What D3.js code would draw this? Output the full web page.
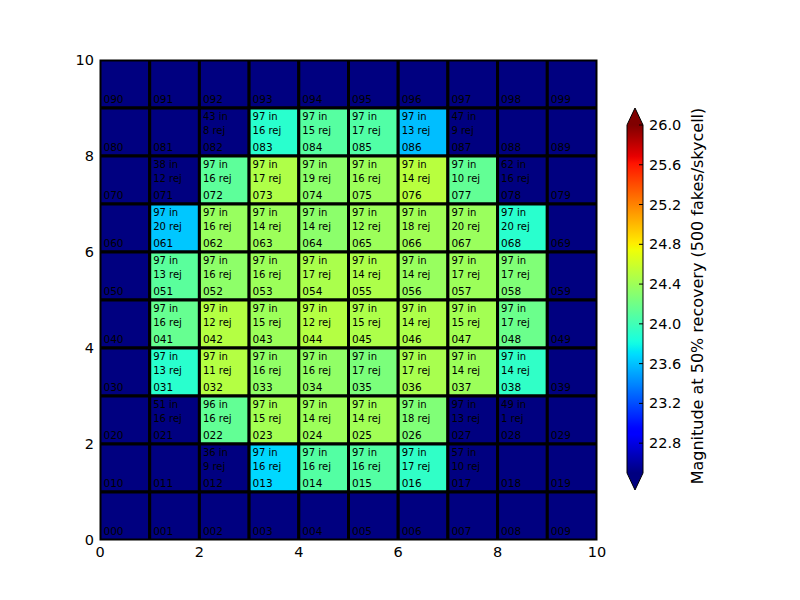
<!DOCTYPE html>
<html>
<head>
<meta charset="utf-8">
<script src="https://cdn.jsdelivr.net/npm/d3@7"></script>
<style>
	body{margin:0;background:#ffffff;}
	text{font-family:"DejaVu Sans", sans-serif;}
</style>
</head>
<body>
<div id="chart"></div>
<script>

//rows listed top (row 9) to bottom (row 0), null = no recovery value (drawn in under-colour)
var magnitude = [
	[null, null, null, null, null, null, null, null, null, null],
	[null, null, null, 23.90, 24.09, 24.07, 23.59, null, null, null],
	[null, null, 24.12, 24.47, 24.32, 24.39, 24.51, 24.14, null, null],
	[null, 23.62, 24.37, 24.39, 24.32, 24.39, 24.41, 24.38, 23.90, null],
	[null, 24.11, 24.33, 24.39, 24.45, 24.46, 24.37, 24.39, 24.27, null],
	[null, 24.16, 24.49, 24.39, 24.49, 24.46, 24.46, 24.42, 24.18, null],
	[null, 23.90, 24.49, 24.34, 24.34, 24.25, 24.44, 24.39, 23.93, null],
	[null, null, 24.14, 24.42, 24.39, 24.41, 24.27, null, null, null],
	[null, null, null, 23.68, 24.08, 24.08, 23.93, null, null, null],
	[null, null, null, null, null, null, null, null, null, null]
];

//fakes put in per cell (null = no text)
var nIn = [
	[null, null, null, null, null, null, null, null, null, null],
	[null, null, 43, 97, 97, 97, 97, 47, null, null],
	[null, 38, 97, 97, 97, 97, 97, 97, 62, null],
	[null, 97, 97, 97, 97, 97, 97, 97, 97, null],
	[null, 97, 97, 97, 97, 97, 97, 97, 97, null],
	[null, 97, 97, 97, 97, 97, 97, 97, 97, null],
	[null, 97, 97, 97, 97, 97, 97, 97, 97, null],
	[null, 51, 96, 97, 97, 97, 97, 97, 49, null],
	[null, null, 36, 97, 97, 97, 97, 57, null, null],
	[null, null, null, null, null, null, null, null, null, null]
];

//fakes rejected per cell
var nRej = [
	[null, null, null, null, null, null, null, null, null, null],
	[null, null, 8, 16, 15, 17, 13, 9, null, null],
	[null, 12, 16, 17, 19, 16, 14, 10, 16, null],
	[null, 20, 16, 14, 14, 12, 18, 20, 20, null],
	[null, 13, 16, 16, 17, 14, 14, 17, 17, null],
	[null, 16, 12, 15, 12, 15, 14, 15, 17, null],
	[null, 13, 11, 16, 16, 17, 17, 14, 14, null],
	[null, 16, 16, 15, 14, 14, 18, 13, 1, null],
	[null, null, 9, 16, 16, 16, 17, 10, null, null],
	[null, null, null, null, null, null, null, null, null, null]
];

var axisTicks = [0, 2, 4, 6, 8, 10];
var cbarTicks = [22.8, 23.2, 23.6, 24.0, 24.4, 24.8, 25.2, 25.6, 26.0];
var cbarRange = [22.5, 26.0];
var cbarLabel = "Magnitude at 50% recovery (500 fakes/skycell)";

//matplotlib "jet" segment data
var jetR = d3.scaleLinear().domain([0, 0.35, 0.66, 0.89, 1]).range([0, 0, 1, 1, 0.5]).clamp(true);
var jetG = d3.scaleLinear().domain([0, 0.125, 0.375, 0.64, 0.91, 1]).range([0, 0, 1, 1, 0, 0]).clamp(true);
var jetB = d3.scaleLinear().domain([0, 0.11, 0.34, 0.65, 1]).range([0.5, 1, 1, 0, 0]).clamp(true);
function jet(t){
	return d3.rgb(jetR(t)*255, jetG(t)*255, jetB(t)*255).formatHex();
}

var W = 800, H = 600;
var plot = {left:100, right:597, top:60, bottom:540};
var fs = "14.5px";

var svg = d3.select("#chart").append("svg").attr("width", W).attr("height", H);

var x = d3.scaleLinear().domain([0, 10]).range([plot.left, plot.right]);
var y = d3.scaleLinear().domain([0, 10]).range([plot.bottom, plot.top]);
var norm = d3.scaleLinear().domain(cbarRange).range([0, 1]);

//flatten to cells
var cells = [];
magnitude.forEach(function(rowVals, ri){
	var row = 9 - ri;
	rowVals.forEach(function(v, col){
		cells.push({
			row:row, col:col, value:v,
			nin:nIn[ri][col], nrej:nRej[ri][col],
			id:"0" + row + col
		});
	});
});

svg.append("clipPath").attr("id", "plotclip")
	.append("rect")
	.attr("x", plot.left).attr("y", plot.top)
	.attr("width", plot.right - plot.left).attr("height", plot.bottom - plot.top);

var maing = svg.append("g").attr("clip-path", "url(#plotclip)");

maing.selectAll("rect.cell").data(cells).enter().append("rect").classed("cell", true)
	.attr("x", function(d){return x(d.col)})
	.attr("y", function(d){return y(d.row + 1)})
	.attr("width", function(d){return x(d.col + 1) - x(d.col)})
	.attr("height", function(d){return y(d.row) - y(d.row + 1)})
	.attr("fill", function(d){return d.value == null ? jet(0) : jet(norm(d.value))})
	.attr("stroke", "#000000")
	.attr("stroke-width", 3);

var labels = maing.selectAll("g.cell-text").data(cells).enter().append("g").classed("cell-text", true);

labels.append("text")
	.attr("x", function(d){return x(d.col + 0.07)})
	.attr("y", function(d){return y(d.row + 0.1)})
	.style("font-size", "10.5px")
	.style("fill", "#000000")
	.text(function(d){return d.id});

labels.filter(function(d){return d.nin != null}).append("text")
	.attr("x", function(d){return x(d.col + 0.07)})
	.attr("y", function(d){return y(d.row + 0.75)})
	.style("font-size", "10px")
	.style("fill", "#000000")
	.text(function(d){return d.nin + " in"});

labels.filter(function(d){return d.nrej != null}).append("text")
	.attr("x", function(d){return x(d.col + 0.07)})
	.attr("y", function(d){return y(d.row + 0.465)})
	.style("font-size", "10px")
	.style("fill", "#000000")
	.text(function(d){return d.nrej + " rej"});

//frame
svg.append("rect")
	.attr("x", plot.left).attr("y", plot.top)
	.attr("width", plot.right - plot.left).attr("height", plot.bottom - plot.top)
	.attr("fill", "none").attr("stroke", "#000000").attr("stroke-width", 1);

//axis tick labels
svg.selectAll("text.xtick").data(axisTicks).enter().append("text").classed("xtick", true)
	.attr("x", function(d){return x(d)})
	.attr("y", plot.bottom + 17)
	.attr("text-anchor", "middle")
	.style("font-size", fs)
	.text(function(d){return d});

svg.selectAll("text.ytick").data(axisTicks).enter().append("text").classed("ytick", true)
	.attr("x", plot.left - 6)
	.attr("y", function(d){return y(d) + 5})
	.attr("text-anchor", "end")
	.style("font-size", fs)
	.text(function(d){return d});

//colorbar
var cb = {left:627, right:643, top:125, bottom:473, tip:17};
var cy = d3.scaleLinear().domain(cbarRange).range([cb.bottom, cb.top]);
var cmid = (cb.left + cb.right) / 2;

var grad = svg.append("defs").append("linearGradient").attr("id", "jetgrad")
	.attr("x1", "0").attr("y1", "1").attr("x2", "0").attr("y2", "0");
grad.selectAll("stop").data(d3.range(0, 1.0001, 0.01)).enter().append("stop")
	.attr("offset", function(d){return d})
	.attr("stop-color", function(d){return jet(d)});

var cbg = svg.append("g");
cbg.append("rect")
	.attr("x", cb.left).attr("y", cb.top)
	.attr("width", cb.right - cb.left).attr("height", cb.bottom - cb.top)
	.attr("fill", "url(#jetgrad)");

cbg.append("path")
	.attr("d", "M" + cb.left + "," + cb.top + "L" + cmid + "," + (cb.top - cb.tip) + "L" + cb.right + "," + cb.top + "Z")
	.attr("fill", jet(1));
cbg.append("path")
	.attr("d", "M" + cb.left + "," + cb.bottom + "L" + cmid + "," + (cb.bottom + cb.tip) + "L" + cb.right + "," + cb.bottom + "Z")
	.attr("fill", jet(0));

cbg.append("path")
	.attr("d", "M" + cb.left + "," + cb.top + "L" + cmid + "," + (cb.top - cb.tip) + "L" + cb.right + "," + cb.top
		+ "L" + cb.right + "," + cb.bottom + "L" + cmid + "," + (cb.bottom + cb.tip) + "L" + cb.left + "," + cb.bottom + "Z")
	.attr("fill", "none").attr("stroke", "#000000").attr("stroke-width", 1);

cbg.selectAll("line.cbtick").data(cbarTicks).enter().append("line").classed("cbtick", true)
	.attr("x1", cb.right - 4).attr("x2", cb.right)
	.attr("y1", function(d){return cy(d)}).attr("y2", function(d){return cy(d)})
	.attr("stroke", "#000000").attr("stroke-width", 1);

cbg.selectAll("text.cbtick").data(cbarTicks).enter().append("text").classed("cbtick", true)
	.attr("x", cb.right + 6)
	.attr("y", function(d){return cy(d) + 5})
	.style("font-size", fs)
	.text(function(d){return d.toFixed(1)});

svg.append("text")
	.attr("transform", "translate(703," + ((cb.top + cb.bottom) / 2 - 3) + ") rotate(-90)")
	.attr("text-anchor", "middle")
	.style("font-size", "16px")
	.text(cbarLabel);

</script>
</body>
</html>
